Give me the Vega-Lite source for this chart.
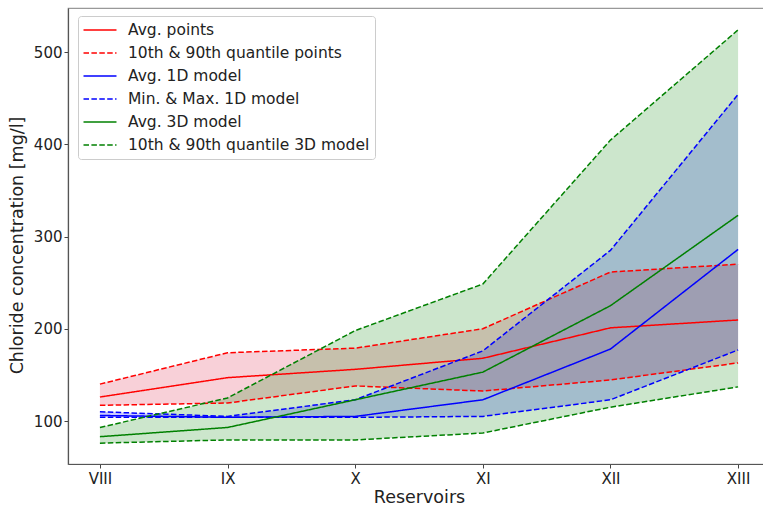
{
  "$schema": "https://vega.github.io/schema/vega-lite/v6.json",
  "width": 702,
  "height": 456,
  "padding": {"left": 8, "top": 8, "right": 0, "bottom": 0},
  "background": "white",
  "config": {
    "view": {"stroke": "#999", "strokeWidth": 1.2},
    "font": "DejaVu Sans",
    "axis": {
      "grid": false,
      "labelFont": "DejaVu Sans",
      "labelFontSize": 15,
      "labelColor": "#222",
      "titleFont": "DejaVu Sans",
      "titleFontSize": 17.5,
      "titleFontWeight": "normal",
      "titleColor": "#222",
      "tickColor": "#444",
      "tickSize": 4,
      "domainColor": "#555",
      "domainWidth": 1.2
    },
    "legend": {
      "labelFont": "DejaVu Sans",
      "labelFontSize": 15.5,
      "labelColor": "#222",
      "labelLimit": 400
    }
  },
  "datasets": {
    "lines": [
      {"r": "VIII", "series": "Avg. points", "line": "pAvg", "v": 126},
      {"r": "IX", "series": "Avg. points", "line": "pAvg", "v": 147},
      {"r": "X", "series": "Avg. points", "line": "pAvg", "v": 156},
      {"r": "XI", "series": "Avg. points", "line": "pAvg", "v": 168},
      {"r": "XII", "series": "Avg. points", "line": "pAvg", "v": 201},
      {"r": "XIII", "series": "Avg. points", "line": "pAvg", "v": 209.5},
      {"r": "VIII", "series": "10th & 90th quantile points", "line": "pHi", "v": 140},
      {"r": "IX", "series": "10th & 90th quantile points", "line": "pHi", "v": 174},
      {"r": "X", "series": "10th & 90th quantile points", "line": "pHi", "v": 179},
      {"r": "XI", "series": "10th & 90th quantile points", "line": "pHi", "v": 200},
      {"r": "XII", "series": "10th & 90th quantile points", "line": "pHi", "v": 261.5},
      {"r": "XIII", "series": "10th & 90th quantile points", "line": "pHi", "v": 270},
      {"r": "VIII", "series": "10th & 90th quantile points", "line": "pLo", "v": 117},
      {"r": "IX", "series": "10th & 90th quantile points", "line": "pLo", "v": 119.5},
      {"r": "X", "series": "10th & 90th quantile points", "line": "pLo", "v": 138},
      {"r": "XI", "series": "10th & 90th quantile points", "line": "pLo", "v": 132.5},
      {"r": "XII", "series": "10th & 90th quantile points", "line": "pLo", "v": 144.5},
      {"r": "XIII", "series": "10th & 90th quantile points", "line": "pLo", "v": 163},
      {"r": "VIII", "series": "Avg. 1D model", "line": "aAvg", "v": 106},
      {"r": "IX", "series": "Avg. 1D model", "line": "aAvg", "v": 104},
      {"r": "X", "series": "Avg. 1D model", "line": "aAvg", "v": 105},
      {"r": "XI", "series": "Avg. 1D model", "line": "aAvg", "v": 123},
      {"r": "XII", "series": "Avg. 1D model", "line": "aAvg", "v": 178},
      {"r": "XIII", "series": "Avg. 1D model", "line": "aAvg", "v": 286},
      {"r": "VIII", "series": "Min. & Max. 1D model", "line": "aMax", "v": 110},
      {"r": "IX", "series": "Min. & Max. 1D model", "line": "aMax", "v": 105},
      {"r": "X", "series": "Min. & Max. 1D model", "line": "aMax", "v": 123},
      {"r": "XI", "series": "Min. & Max. 1D model", "line": "aMax", "v": 176},
      {"r": "XII", "series": "Min. & Max. 1D model", "line": "aMax", "v": 285},
      {"r": "XIII", "series": "Min. & Max. 1D model", "line": "aMax", "v": 454},
      {"r": "VIII", "series": "Min. & Max. 1D model", "line": "aMin", "v": 104},
      {"r": "IX", "series": "Min. & Max. 1D model", "line": "aMin", "v": 104},
      {"r": "X", "series": "Min. & Max. 1D model", "line": "aMin", "v": 104},
      {"r": "XI", "series": "Min. & Max. 1D model", "line": "aMin", "v": 105},
      {"r": "XII", "series": "Min. & Max. 1D model", "line": "aMin", "v": 123},
      {"r": "XIII", "series": "Min. & Max. 1D model", "line": "aMin", "v": 177},
      {"r": "VIII", "series": "Avg. 3D model", "line": "bAvg", "v": 83},
      {"r": "IX", "series": "Avg. 3D model", "line": "bAvg", "v": 93},
      {"r": "X", "series": "Avg. 3D model", "line": "bAvg", "v": 123},
      {"r": "XI", "series": "Avg. 3D model", "line": "bAvg", "v": 153},
      {"r": "XII", "series": "Avg. 3D model", "line": "bAvg", "v": 225},
      {"r": "XIII", "series": "Avg. 3D model", "line": "bAvg", "v": 323},
      {"r": "VIII", "series": "10th & 90th quantile 3D model", "line": "bHi", "v": 93},
      {"r": "IX", "series": "10th & 90th quantile 3D model", "line": "bHi", "v": 125},
      {"r": "X", "series": "10th & 90th quantile 3D model", "line": "bHi", "v": 198},
      {"r": "XI", "series": "10th & 90th quantile 3D model", "line": "bHi", "v": 248.5},
      {"r": "XII", "series": "10th & 90th quantile 3D model", "line": "bHi", "v": 404.5},
      {"r": "XIII", "series": "10th & 90th quantile 3D model", "line": "bHi", "v": 524},
      {"r": "VIII", "series": "10th & 90th quantile 3D model", "line": "bLo", "v": 76},
      {"r": "IX", "series": "10th & 90th quantile 3D model", "line": "bLo", "v": 79.5},
      {"r": "X", "series": "10th & 90th quantile 3D model", "line": "bLo", "v": 79.5},
      {"r": "XI", "series": "10th & 90th quantile 3D model", "line": "bLo", "v": 87},
      {"r": "XII", "series": "10th & 90th quantile 3D model", "line": "bLo", "v": 115},
      {"r": "XIII", "series": "10th & 90th quantile 3D model", "line": "bLo", "v": 137}
    ],
    "bands": [
      {"r": "VIII", "band": "points", "lo": 117, "hi": 140},
      {"r": "IX", "band": "points", "lo": 119.5, "hi": 174},
      {"r": "X", "band": "points", "lo": 138, "hi": 179},
      {"r": "XI", "band": "points", "lo": 132.5, "hi": 200},
      {"r": "XII", "band": "points", "lo": 144.5, "hi": 261.5},
      {"r": "XIII", "band": "points", "lo": 163, "hi": 270},
      {"r": "VIII", "band": "1D", "lo": 104, "hi": 110},
      {"r": "IX", "band": "1D", "lo": 104, "hi": 105},
      {"r": "X", "band": "1D", "lo": 104, "hi": 123},
      {"r": "XI", "band": "1D", "lo": 105, "hi": 176},
      {"r": "XII", "band": "1D", "lo": 123, "hi": 285},
      {"r": "XIII", "band": "1D", "lo": 177, "hi": 454},
      {"r": "VIII", "band": "3D", "lo": 76, "hi": 93},
      {"r": "IX", "band": "3D", "lo": 79.5, "hi": 125},
      {"r": "X", "band": "3D", "lo": 79.5, "hi": 198},
      {"r": "XI", "band": "3D", "lo": 87, "hi": 248.5},
      {"r": "XII", "band": "3D", "lo": 115, "hi": 404.5},
      {"r": "XIII", "band": "3D", "lo": 137, "hi": 524}
    ]
  },
  "encoding": {
    "x": {
      "field": "r",
      "type": "ordinal",
      "sort": ["VIII", "IX", "X", "XI", "XII", "XIII"],
      "scale": {"type": "point", "padding": 0.25},
      "axis": {"title": "Reservoirs", "labelAngle": 0, "labelPadding": 3, "titlePadding": 2}
    }
  },
  "layer": [
    {
      "data": {"name": "bands"},
      "mark": {"type": "area", "opacity": 0.2, "interpolate": "linear"},
      "encoding": {
        "y": {
          "field": "lo",
          "type": "quantitative",
          "scale": {"domain": [53.4, 547.7], "nice": false, "zero": false},
          "axis": {"title": "Chloride concentration [mg/l]", "values": [100, 200, 300, 400, 500], "titlePadding": 7, "titleY": 237}
        },
        "y2": {"field": "hi"},
        "fill": {
          "field": "band",
          "type": "nominal",
          "scale": {"domain": ["points", "1D", "3D"], "range": ["crimson", "blue", "green"]},
          "legend": null
        },
        "order": {"field": "band"}
      }
    },
    {
      "data": {"name": "lines"},
      "mark": {"type": "line", "strokeWidth": 1.5},
      "encoding": {
        "y": {"field": "v", "type": "quantitative"},
        "detail": {"field": "line"},
        "color": {
          "field": "series",
          "type": "nominal",
          "scale": {
            "domain": ["Avg. points", "10th & 90th quantile points", "Avg. 1D model", "Min. & Max. 1D model", "Avg. 3D model", "10th & 90th quantile 3D model"],
            "range": ["red", "red", "blue", "blue", "green", "green"]
          },
          "legend": {
            "title": null,
            "orient": "none",
            "legendX": 10,
            "legendY": 8,
            "symbolType": "M-2,0L2,0",
            "symbolSize": 272,
            "symbolStrokeWidth": 1.5,
            "symbolOffset": 8,
            "labelOffset": 19,
            "rowPadding": 5,
            "padding": 5,
            "strokeColor": "#ccc",
            "cornerRadius": 3,
            "fillColor": "rgba(255,255,255,0.8)"
          }
        },
        "strokeDash": {
          "field": "series",
          "type": "nominal",
          "scale": {
            "domain": ["Avg. points", "10th & 90th quantile points", "Avg. 1D model", "Min. & Max. 1D model", "Avg. 3D model", "10th & 90th quantile 3D model"],
            "range": [[1, 0], [5.5, 2.4], [1, 0], [5.5, 2.4], [1, 0], [5.5, 2.4]]
          },
          "legend": {
            "title": null,
            "orient": "none",
            "legendX": 10,
            "legendY": 8,
            "symbolType": "M-2,0L2,0",
            "symbolSize": 272,
            "symbolStrokeWidth": 1.5,
            "symbolOffset": 8,
            "labelOffset": 19,
            "rowPadding": 5,
            "padding": 5,
            "strokeColor": "#ccc",
            "cornerRadius": 3,
            "fillColor": "rgba(255,255,255,0.8)"
          }
        }
      }
    }
  ]
}
